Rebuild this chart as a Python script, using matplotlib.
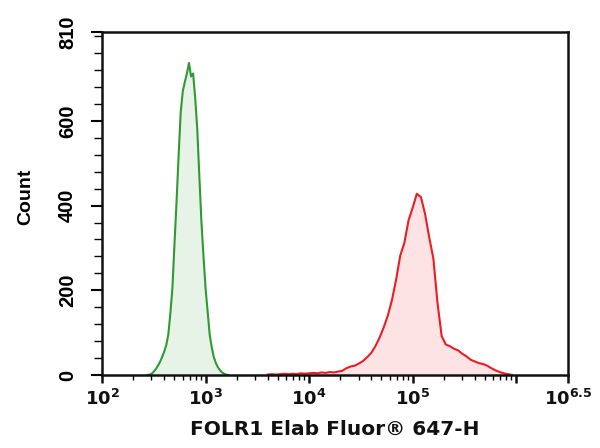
import matplotlib
matplotlib.use('Agg')
import matplotlib.pyplot as plt
from matplotlib.ticker import FixedLocator, NullFormatter, FixedFormatter
import numpy as np

# ---- data (log10 of fluorescence, counts) ----
green_log = [2.44, 2.46, 2.48, 2.50, 2.52, 2.54, 2.56, 2.58, 2.60, 2.62,
             2.64, 2.66, 2.68, 2.70, 2.72, 2.74, 2.76, 2.78, 2.80, 2.82,
             2.84, 2.86, 2.88, 2.90, 2.92, 2.94, 2.96, 2.98, 3.00, 3.02,
             3.04, 3.06, 3.08, 3.10, 3.12, 3.14, 3.16, 3.18, 3.20, 3.22]
green_count = [0, 1, 3, 8, 14, 22, 31, 42, 55, 70,
               95, 145, 205, 310, 410, 519, 620, 670, 692, 712,
               737, 705, 712, 654, 580, 470, 362, 280, 205, 150,
               95, 65, 42, 28, 18, 11, 6, 3, 1, 0]

red_log = [3.60, 3.64, 3.68, 3.72, 3.76, 3.80, 3.84, 3.88, 3.92, 3.96,
           4.00, 4.04, 4.08, 4.12, 4.16, 4.20, 4.24, 4.28, 4.32, 4.36,
           4.40, 4.44, 4.48, 4.52, 4.56, 4.60, 4.64, 4.68, 4.72, 4.76,
           4.80, 4.84, 4.88, 4.92, 4.96, 5.00, 5.04, 5.08, 5.12, 5.16,
           5.20, 5.24, 5.28, 5.32, 5.36, 5.40, 5.44, 5.48, 5.52, 5.56,
           5.60, 5.64, 5.68, 5.72, 5.76, 5.80, 5.84, 5.88, 5.92, 5.96]
red_count = [1, 2, 1, 2, 3, 2, 3, 2, 4, 3,
             4, 5, 4, 6, 5, 7, 6, 8, 10, 16,
             20, 22, 27, 33, 42, 52, 68, 88, 112, 140,
             177, 225, 282, 312, 365, 395, 428, 420, 380, 325,
             275, 170, 92, 72, 68, 62, 58, 50, 44, 36,
             32, 28, 26, 22, 16, 11, 7, 4, 2, 0]

x_tick_exp = [2, 3, 4, 5, 6, 6.5]
x_tick_labels = [r'$\mathbf{10^{2}}$', r'$\mathbf{10^{3}}$', r'$\mathbf{10^{4}}$',
                 r'$\mathbf{10^{5}}$', '', r'$\mathbf{10^{6.5}}$']
y_ticks = [0, 200, 400, 600, 810]
y_tick_labels = ['0', '200', '400', '600', '810']
y_minor = list(range(40, 810, 40))

plt.rcParams['mathtext.fontset'] = 'dejavusans'
narrow = ['Liberation Sans', 'DejaVu Sans']

fig = plt.figure(figsize=(6, 4.48), dpi=100)
ax = fig.add_axes([102/600, 1 - 375/448, (568 - 102)/600, (375 - 32)/448])

gx = 10 ** np.array(green_log)
rx = 10 ** np.array(red_log)
ax.fill_between(gx, green_count, color='#e8f3e8', lw=0)
ax.plot(gx, green_count, color='#2f9a35', lw=1.5)
ax.fill_between(rx, red_count, color='#fde3e3', lw=0)
ax.plot(rx, red_count, color='#ec1c24', lw=1.5)

ax.set_xscale('log')
ax.set_xlim(1e2, 10 ** 6.5)
ax.set_ylim(0, 810)

ax.xaxis.set_major_locator(FixedLocator([10 ** e for e in x_tick_exp]))
ax.xaxis.set_major_formatter(FixedFormatter(x_tick_labels))
ax.xaxis.set_minor_locator(FixedLocator([k * 10 ** d for d in range(2, 6) for k in range(2, 10)]))
ax.xaxis.set_minor_formatter(NullFormatter())

ax.yaxis.set_major_locator(FixedLocator(y_ticks))
ax.yaxis.set_major_formatter(FixedFormatter(y_tick_labels))
ax.yaxis.set_minor_locator(FixedLocator(y_minor))

for s in ax.spines.values():
    s.set_linewidth(1.8)
    s.set_color('#111111')

ax.tick_params(axis='x', which='major', direction='out', length=6, width=1.8, pad=4,
               labelsize=13, colors='#111111')
ax.tick_params(axis='x', which='minor', direction='out', length=3.5, width=1.0)
ax.tick_params(axis='y', which='major', direction='out', length=8, width=1.5, pad=10)
ax.tick_params(axis='y', which='minor', direction='out', length=5.5, width=1.0)

for lab in ax.get_yticklabels():
    lab.set_rotation(90)
    lab.set_va('center')
    lab.set_family(narrow)
    lab.set_fontweight('bold')
    lab.set_fontsize(14.5)

ax.set_xlabel('FOLR1 Elab Fluor® 647-H', fontsize=14.5, fontweight='bold',
              family=['DejaVu Sans'], labelpad=8, color='#111111')
ax.set_ylabel('Count', fontsize=14, fontweight='bold', family=narrow)
ax.yaxis.set_label_coords(-0.145, 0.52)

fig.savefig('out.png', dpi=100)
